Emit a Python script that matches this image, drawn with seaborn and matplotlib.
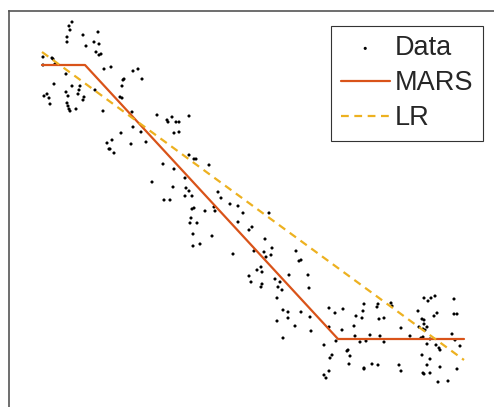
import numpy as np
import pandas as pd
import matplotlib
matplotlib.use("Agg")
import matplotlib.pyplot as plt
import seaborn as sns

# scattered observations (arbitrary units)
data_x = [30, 27, 28, 25, 25, 41, 56, 44, 52, 57, 54, 57, 59, 1, 10, 11, 1, 13, 24, 62,
          69, 91, 96, 100, 82, 81, 80, 12, 30, 38, 37, 24, 26, 36, 42, 41, 53, 2, 5, 7,
          8, 25, 26, 27, 28, 34, 78, 80, 61, 90, 91, 99, 104, 79, 89, 65, 70, 67, 68, 72,
          115, 125, 126, 130, 134, 137, 132, 137, 121, 147, 147, 152, 154, 167, 132, 143, 110, 131, 144, 147,
          143, 150, 122, 128, 176, 179, 150, 152, 163, 172, 173, 188, 196, 201, 227, 149, 148, 155, 151, 151,
          158, 170, 196, 207, 210, 223, 230, 222, 229, 224, 212, 191, 257, 219, 215, 220, 207, 209, 220, 219,
          233, 238, 247, 254, 259, 236, 240, 266, 267, 235, 241, 246, 246, 235, 241, 259, 268, 253, 269, 287,
          293, 301, 287, 300, 312, 313, 314, 321, 322, 320, 336, 335, 337, 342, 349, 350, 328, 338, 342, 318,
          324, 282, 306, 305, 308, 307, 290, 288, 322, 322, 330, 336, 287, 282, 284, 357, 294, 359, 359, 368,
          376, 380, 382, 382, 385, 381, 383, 377, 382, 386, 389, 393, 395, 392, 379, 381, 385, 388, 394, 397,
          398, 380, 388, 385, 381, 382, 388, 398, 396, 406, 412, 412, 415, 410, 413, 418, 415]
data_y = [317, 313, 309, 302, 297, 304, 307, 293, 297, 295, 287, 284, 285, 282, 281, 280, 274, 275, 265, 270,
          272, 268, 270, 260, 260, 259, 253, 255, 253, 253, 249, 247, 243, 245, 242, 239, 249, 243, 245, 241,
          235, 236, 233, 230, 228, 230, 242, 241, 228, 227, 212, 207, 197, 206, 195, 196, 199, 190, 190, 186,
          224, 219, 217, 222, 217, 217, 206, 207, 175, 223, 184, 180, 180, 174, 170, 161, 157, 152, 151, 148,
          143, 143, 139, 139, 147, 141, 130, 131, 128, 132, 128, 135, 133, 126, 126, 121, 116, 116, 105, 93,
          95, 103, 117, 109, 112, 100, 91, 87, 84, 82, 88, 85, 78, 72, 69, 67, 63, 57, 55, 52,
          60, 57, 64, 88, 79, 52, 49, 64, 51, 41, 29, 27, 21, 18, 1, 27, 22, 13, 8, 31,
          26, 30, 12, 9, 13, 3, 23, 28, 35, 21, 35, 32, 20, 21, 36, 33, 4, 3, -3, -3,
          -2, -6, -11, -12, -17, -25, -16, -19, -29, -30, -25, -26, -32, -36, -39, -26, -2, -32, 11, 3,
          28, 20, 19, 15, 12, 10, 9, 12, 41, 38, 41, 43, 26, 23, 1, 2, -5, 0, -6, -9,
          -11, -16, -20, -26, -34, -35, -34, -28, -43, -42, 40, 25, 25, 5, -1, -7, -30]

# fitted models
mars_x = [0, 43, 296, 422]
mars_y = [274, 274, 0, 0]
lr_x = [0, 422]
lr_y = [287, -21]

sns.set_theme(style="white")
plt.rcParams["font.family"] = ["Liberation Sans", "DejaVu Sans"]

W, H = 494, 407
fig = plt.figure(figsize=(W / 100, H / 100), dpi=100)
# axes box runs past the right and bottom edges of the image
ax = fig.add_axes([9 / W, -13 / H, 511 / W, 409 / H])

pts = pd.DataFrame({"x": data_x, "y": data_y})
sns.scatterplot(data=pts, x="x", y="y", ax=ax, color="black", s=5,
                edgecolor="none", label="Data")
sns.lineplot(x=mars_x, y=mars_y, ax=ax, color="#D95319", lw=1.6, label="MARS")
sns.lineplot(x=lr_x, y=lr_y, ax=ax, color="#EDB120", lw=1.6,
             linestyle=(0, (3.5, 2.5)), label="LR")

ax.set_xlim(-33, 478)
ax.set_ylim(-81, 328)
ax.set_xticks([])
ax.set_yticks([])
ax.set_xlabel("")
ax.set_ylabel("")
for sp in ax.spines.values():
    sp.set_color("#555555")
    sp.set_linewidth(1.2)

leg = ax.legend(loc="upper right", bbox_to_anchor=(483 / W, 1 - 26 / H),
                bbox_transform=fig.transFigure, borderaxespad=0,
                fontsize=19.5, handlelength=1.8, handletextpad=0.2,
                labelspacing=0.33, borderpad=0.35, fancybox=False,
                framealpha=1, edgecolor="#333333")
leg.get_frame().set_linewidth(0.8)

plt.savefig("out.png", dpi=100)
